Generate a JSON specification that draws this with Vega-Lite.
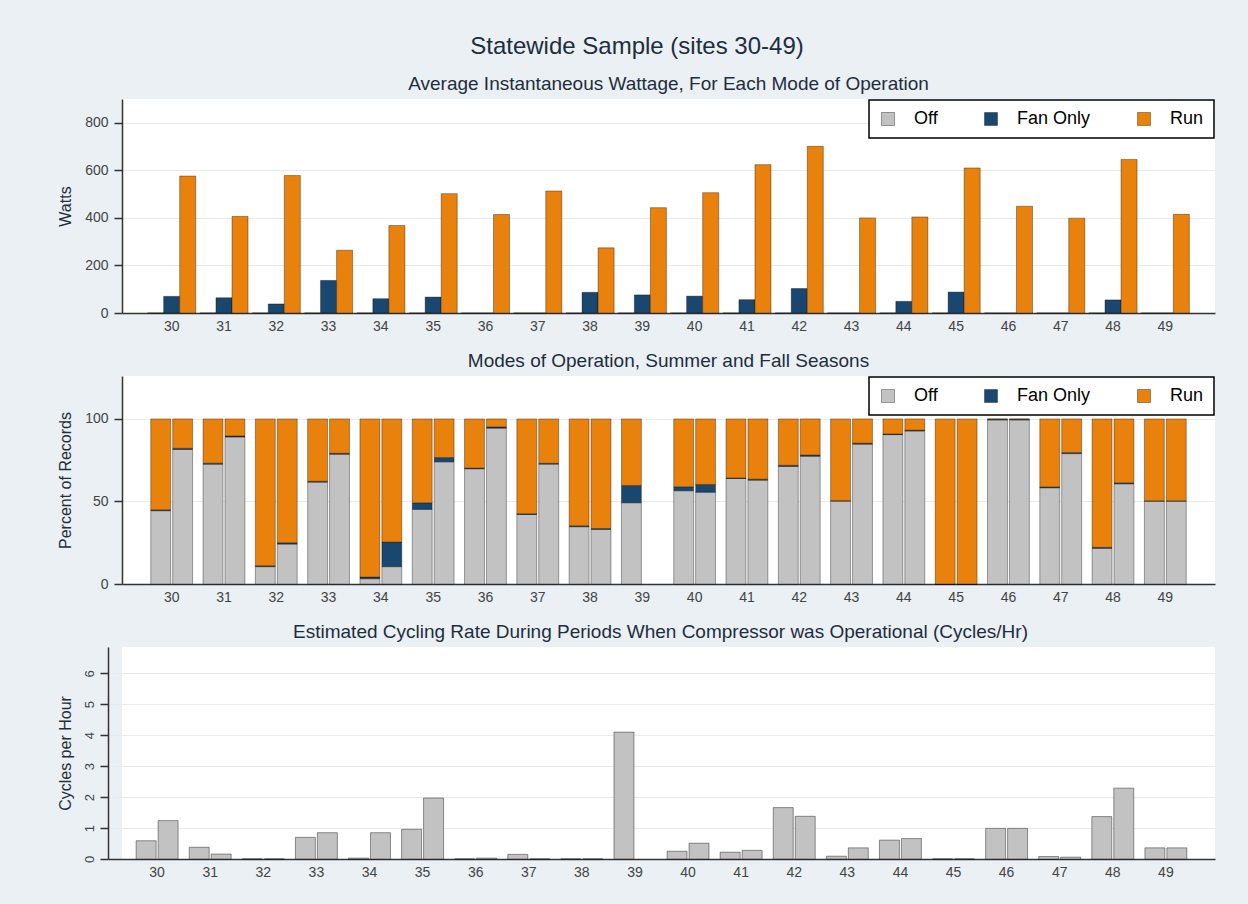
{
  "$schema": "https://vega.github.io/schema/vega-lite/v6.json",
  "background": "#eaf0f4",
  "padding": {"left": 57, "right": 33, "top": 35, "bottom": 26},
  "title": {"text": "Statewide Sample (sites 30-49)", "fontSize": 24, "fontWeight": "normal", "color": "#1f2d3d", "anchor": "middle", "frame": "bounds", "offset": 16, "dx": -6},
  "spacing": 19,
  "datasets": {
    "modes": [
      {"mode": "Off", "ord": 0},
      {"mode": "Fan Only", "ord": 1},
      {"mode": "Run", "ord": 2}
    ],
    "watts": [
      {"site": 30, "Off": 0, "Fan Only": 70, "Run": 576},
      {"site": 31, "Off": 0, "Fan Only": 64, "Run": 406},
      {"site": 32, "Off": 0, "Fan Only": 38, "Run": 578},
      {"site": 33, "Off": 0, "Fan Only": 137, "Run": 264},
      {"site": 34, "Off": 0, "Fan Only": 60, "Run": 368},
      {"site": 35, "Off": 0, "Fan Only": 67, "Run": 502},
      {"site": 36, "Off": 0, "Fan Only": 0, "Run": 414},
      {"site": 37, "Off": 0, "Fan Only": 0, "Run": 513},
      {"site": 38, "Off": 0, "Fan Only": 87, "Run": 274},
      {"site": 39, "Off": 0, "Fan Only": 76, "Run": 443},
      {"site": 40, "Off": 0, "Fan Only": 71, "Run": 506},
      {"site": 41, "Off": 0, "Fan Only": 56, "Run": 624},
      {"site": 42, "Off": 0, "Fan Only": 103, "Run": 701},
      {"site": 43, "Off": 0, "Fan Only": 0, "Run": 400},
      {"site": 44, "Off": 0, "Fan Only": 49, "Run": 404},
      {"site": 45, "Off": 0, "Fan Only": 88, "Run": 610},
      {"site": 46, "Off": 0, "Fan Only": 0, "Run": 449},
      {"site": 47, "Off": 0, "Fan Only": 0, "Run": 399},
      {"site": 48, "Off": 0, "Fan Only": 55, "Run": 646},
      {"site": 49, "Off": 0, "Fan Only": 0, "Run": 415}
    ],
    "modesPct": [
      {"site": 30, "season": "Summer", "Off": 44.4, "Fan Only": 0.6, "Run": 55.0},
      {"site": 30, "season": "Fall", "Off": 81.5, "Fan Only": 0.7, "Run": 17.8},
      {"site": 31, "season": "Summer", "Off": 72.6, "Fan Only": 0.6, "Run": 26.8},
      {"site": 31, "season": "Fall", "Off": 89.1, "Fan Only": 0.6, "Run": 10.3},
      {"site": 32, "season": "Summer", "Off": 10.5, "Fan Only": 0.6, "Run": 88.9},
      {"site": 32, "season": "Fall", "Off": 24.2, "Fan Only": 0.8, "Run": 75.0},
      {"site": 33, "season": "Summer", "Off": 61.7, "Fan Only": 0.5, "Run": 37.8},
      {"site": 33, "season": "Fall", "Off": 78.6, "Fan Only": 0.6, "Run": 20.8},
      {"site": 34, "season": "Summer", "Off": 3.2, "Fan Only": 1.0, "Run": 95.8},
      {"site": 34, "season": "Fall", "Off": 10.5, "Fan Only": 14.9, "Run": 74.6},
      {"site": 35, "season": "Summer", "Off": 45.2, "Fan Only": 4.0, "Run": 50.8},
      {"site": 35, "season": "Fall", "Off": 74.0, "Fan Only": 2.6, "Run": 23.4},
      {"site": 36, "season": "Summer", "Off": 69.8, "Fan Only": 0.4, "Run": 29.8},
      {"site": 36, "season": "Fall", "Off": 94.4, "Fan Only": 0.8, "Run": 4.8},
      {"site": 37, "season": "Summer", "Off": 42.1, "Fan Only": 0.5, "Run": 57.4},
      {"site": 37, "season": "Fall", "Off": 72.6, "Fan Only": 0.5, "Run": 26.9},
      {"site": 38, "season": "Summer", "Off": 34.7, "Fan Only": 0.6, "Run": 64.7},
      {"site": 38, "season": "Fall", "Off": 33.1, "Fan Only": 0.5, "Run": 66.4},
      {"site": 39, "season": "Summer", "Off": 49.2, "Fan Only": 10.5, "Run": 40.3},
      {"site": 40, "season": "Summer", "Off": 56.5, "Fan Only": 2.4, "Run": 41.1},
      {"site": 40, "season": "Fall", "Off": 55.6, "Fan Only": 4.7, "Run": 39.7},
      {"site": 41, "season": "Summer", "Off": 63.9, "Fan Only": 0.4, "Run": 35.7},
      {"site": 41, "season": "Fall", "Off": 62.9, "Fan Only": 0.6, "Run": 36.5},
      {"site": 42, "season": "Summer", "Off": 71.2, "Fan Only": 0.7, "Run": 28.1},
      {"site": 42, "season": "Fall", "Off": 77.4, "Fan Only": 0.7, "Run": 21.9},
      {"site": 43, "season": "Summer", "Off": 50.2, "Fan Only": 0.3, "Run": 49.5},
      {"site": 43, "season": "Fall", "Off": 84.7, "Fan Only": 0.6, "Run": 14.7},
      {"site": 44, "season": "Summer", "Off": 90.5, "Fan Only": 0.4, "Run": 9.1},
      {"site": 44, "season": "Fall", "Off": 92.7, "Fan Only": 0.5, "Run": 6.8},
      {"site": 45, "season": "Summer", "Off": 0, "Fan Only": 0, "Run": 100},
      {"site": 45, "season": "Fall", "Off": 0, "Fan Only": 0, "Run": 100},
      {"site": 46, "season": "Summer", "Off": 99.4, "Fan Only": 0.4, "Run": 0.2},
      {"site": 46, "season": "Fall", "Off": 99.4, "Fan Only": 0.4, "Run": 0.2},
      {"site": 47, "season": "Summer", "Off": 58.3, "Fan Only": 0.5, "Run": 41.2},
      {"site": 47, "season": "Fall", "Off": 79.0, "Fan Only": 0.6, "Run": 20.4},
      {"site": 48, "season": "Summer", "Off": 21.6, "Fan Only": 0.6, "Run": 77.8},
      {"site": 48, "season": "Fall", "Off": 60.7, "Fan Only": 0.6, "Run": 38.7},
      {"site": 49, "season": "Summer", "Off": 50.2, "Fan Only": 0.2, "Run": 49.6},
      {"site": 49, "season": "Fall", "Off": 50.2, "Fan Only": 0.2, "Run": 49.6}
    ],
    "cycles": [
      {"site": 30, "season": "Summer", "rate": 0.59},
      {"site": 30, "season": "Fall", "rate": 1.24},
      {"site": 31, "season": "Summer", "rate": 0.38},
      {"site": 31, "season": "Fall", "rate": 0.16},
      {"site": 32, "season": "Summer", "rate": 0},
      {"site": 32, "season": "Fall", "rate": 0},
      {"site": 33, "season": "Summer", "rate": 0.70},
      {"site": 33, "season": "Fall", "rate": 0.85},
      {"site": 34, "season": "Summer", "rate": 0.03},
      {"site": 34, "season": "Fall", "rate": 0.85},
      {"site": 35, "season": "Summer", "rate": 0.96},
      {"site": 35, "season": "Fall", "rate": 1.97},
      {"site": 36, "season": "Summer", "rate": 0},
      {"site": 36, "season": "Fall", "rate": 0.03},
      {"site": 37, "season": "Summer", "rate": 0.15},
      {"site": 37, "season": "Fall", "rate": 0},
      {"site": 38, "season": "Summer", "rate": 0},
      {"site": 38, "season": "Fall", "rate": 0},
      {"site": 39, "season": "Summer", "rate": 4.1},
      {"site": 40, "season": "Summer", "rate": 0.25},
      {"site": 40, "season": "Fall", "rate": 0.51},
      {"site": 41, "season": "Summer", "rate": 0.22},
      {"site": 41, "season": "Fall", "rate": 0.28},
      {"site": 42, "season": "Summer", "rate": 1.66},
      {"site": 42, "season": "Fall", "rate": 1.38},
      {"site": 43, "season": "Summer", "rate": 0.09},
      {"site": 43, "season": "Fall", "rate": 0.36},
      {"site": 44, "season": "Summer", "rate": 0.61},
      {"site": 44, "season": "Fall", "rate": 0.66},
      {"site": 45, "season": "Summer", "rate": 0},
      {"site": 45, "season": "Fall", "rate": 0},
      {"site": 46, "season": "Summer", "rate": 0.99},
      {"site": 46, "season": "Fall", "rate": 0.99},
      {"site": 47, "season": "Summer", "rate": 0.08},
      {"site": 47, "season": "Fall", "rate": 0.06},
      {"site": 48, "season": "Summer", "rate": 1.37},
      {"site": 48, "season": "Fall", "rate": 2.29},
      {"site": 49, "season": "Summer", "rate": 0.36},
      {"site": 49, "season": "Fall", "rate": 0.36}
    ]
  },
  "config": {
    "font": "Liberation Sans",
    "view": {"fill": "#ffffff", "stroke": null},
    "title": {"fontSize": 19, "fontWeight": "normal", "color": "#1f2d3d", "offset": 5, "frame": "group", "anchor": "middle"},
    "axis": {"labelFontSize": 14, "labelColor": "#444444", "domainColor": "#333333", "domainWidth": 1.5, "tickColor": "#333333", "tickWidth": 1.5, "tickSize": 8, "gridColor": "#e6ebee", "gridWidth": 1, "titleFontSize": 16, "titleFontWeight": "normal", "titleColor": "#1f2d3d"},
    "axisX": {"ticks": false, "grid": false, "labelAngle": 0, "labelPadding": 6},
    "axisY": {"grid": true, "labelPadding": 6},
    "legend": {"orient": "top-right", "offset": 1, "direction": "horizontal", "padding": 10, "strokeColor": "#000000", "fillColor": "#ffffff", "strokeWidth": 1.5, "labelFontSize": 18, "labelColor": "#000000", "symbolType": "square", "symbolSize": 169, "symbolStrokeWidth": 1, "symbolStrokeColor": "rgba(0,0,0,0.35)", "labelOffset": 17, "columnPadding": 44, "cornerRadius": 0}
  },
  "resolve": {"scale": {"x": "independent", "y": "independent", "fill": "independent", "xOffset": "independent"}, "legend": {"fill": "independent"}},
  "vconcat": [
    {
      "title": {"text": "Average Instantaneous Wattage, For Each Mode of Operation"},
      "width": 1093,
      "height": 214,
      "data": {"name": "watts"},
      "transform": [
        {"fold": ["Off", "Fan Only", "Run"], "as": ["mode", "watts"]}
      ],
      "mark": {"type": "bar", "stroke": "#000000", "strokeOpacity": 0.35, "strokeWidth": 1},
      "encoding": {
        "x": {"field": "site", "type": "ordinal", "scale": {"paddingInner": 0.08, "paddingOuter": 0.49}, "axis": {"title": null}},
        "xOffset": {"field": "mode", "type": "nominal", "scale": {"domain": ["Off", "Fan Only", "Run"], "paddingInner": 0, "paddingOuter": 0}},
        "y": {"field": "watts", "type": "quantitative", "scale": {"domain": [0, 900], "nice": false}, "axis": {"title": "Watts", "values": [0, 200, 400, 600, 800], "minExtent": 38, "maxExtent": 38, "titlePadding": 11}},
        "fill": {"field": "mode", "type": "nominal", "scale": {"domain": ["Off", "Fan Only", "Run"], "range": ["#c2c2c2", "#1a476f", "#e8820c"]}, "legend": {"title": null}}
      }
    },
    {
      "title": {"text": "Modes of Operation, Summer and Fall Seasons"},
      "width": 1093,
      "height": 208,
      "data": {"name": "modesPct"},
      "transform": [
        {"fold": ["Off", "Fan Only", "Run"], "as": ["mode", "pct"]},
        {"lookup": "mode", "from": {"data": {"name": "modes"}, "key": "mode", "fields": ["ord"]}}
      ],
      "mark": {"type": "bar", "stroke": "#000000", "strokeOpacity": 0.35, "strokeWidth": 1},
      "encoding": {
        "x": {"field": "site", "type": "ordinal", "scale": {"paddingInner": 0.2, "paddingOuter": 0.55}, "axis": {"title": null}},
        "xOffset": {"field": "season", "type": "nominal", "scale": {"domain": ["Summer", "Fall"], "paddingInner": 0.09, "paddingOuter": 0}},
        "y": {"field": "pct", "type": "quantitative", "stack": "zero", "scale": {"domain": [0, 126], "nice": false}, "axis": {"title": "Percent of Records", "values": [0, 50, 100], "minExtent": 38, "maxExtent": 38, "titlePadding": 11}},
        "order": {"field": "ord", "type": "quantitative", "sort": "ascending"},
        "fill": {"field": "mode", "type": "nominal", "scale": {"domain": ["Off", "Fan Only", "Run"], "range": ["#c2c2c2", "#1a476f", "#e8820c"]}, "legend": {"title": null}}
      }
    },
    {
      "title": {"text": "Estimated Cycling Rate During Periods When Compressor was Operational (Cycles/Hr)", "dx": -8},
      "width": 1093,
      "height": 212,
      "data": {"name": "cycles"},
      "mark": {"type": "bar", "fill": "#c2c2c2", "stroke": "#000000", "strokeOpacity": 0.4, "strokeWidth": 1},
      "encoding": {
        "x": {"field": "site", "type": "ordinal", "scale": {"range": [-14, 1093], "paddingInner": 0.21, "paddingOuter": 0.53}, "axis": {"title": null}},
        "xOffset": {"field": "season", "type": "nominal", "scale": {"domain": ["Summer", "Fall"], "paddingInner": 0.09, "paddingOuter": 0}},
        "y": {"field": "rate", "type": "quantitative", "scale": {"domain": [0, 6.85], "nice": false}, "axis": {"title": "Cycles per Hour", "values": [0, 1, 2, 3, 4, 5, 6], "labelAngle": -90, "labelFontSize": 13, "labelPadding": 4, "offset": 14, "minExtent": 26, "maxExtent": 26, "titlePadding": 9}}
      }
    }
  ]
}
